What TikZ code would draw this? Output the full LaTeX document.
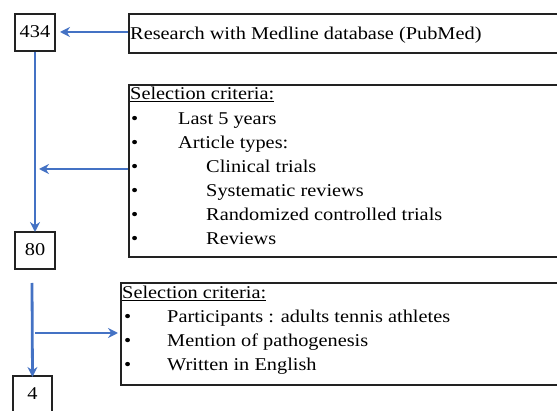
\documentclass[tikz,border=0pt]{standalone}
\usepackage{fontspec}
\setmainfont[FakeStretch=1.13]{Liberation Serif}
\usetikzlibrary{arrows.meta}
\definecolor{arrowblue}{HTML}{4472C4}
\definecolor{boxline}{HTML}{222222}
\begin{document}
\begin{tikzpicture}[x=1pt,y=-1pt,
  numbox/.style={draw=boxline,line width=2pt,minimum width=40pt,minimum height=37pt,inner sep=0pt},
  critbox/.style={draw=boxline,line width=2pt,anchor=north west,inner sep=0pt},
  txt/.style={anchor=base west,inner sep=0pt,font=\fontsize{18}{20}\selectfont},
  numtxt/.style={anchor=base,inner sep=0pt,font=\fontsize{18}{20}\selectfont},
  flow/.style={draw=arrowblue,line width=2.8pt,-{Stealth[length=10pt,width=10pt]}}]
\useasboundingbox (0,0) rectangle (557,411);
% boxes
\node[critbox,minimum width=460pt,minimum height=39pt] (b1) at (128,13) {};
\node[critbox,minimum width=460pt,minimum height=172pt] (b2) at (128,84) {};
\node[critbox,minimum width=470pt,minimum height=102pt] (b3) at (120,282) {};
\node[numbox] (n434) at (35,32.5) {};
\node[numbox] (n80) at (35,250.5) {};
\node[numbox,minimum width=39pt] (n4) at (32.5,394.5) {};
% numbers
\node[numtxt] (t434) at (35,37.5) {434};
\node[numtxt] (t80) at (35,255.5) {80};
\node[numtxt] (t4) at (32.5,399.5) {4};
% box 1 text
\node[txt] (r1) at (130,39.5) {Research with Medline database (PubMed)};
% box 2 text
\node[txt] (s2) at (130,100) {\underline{Selection criteria:}};
\node[txt] (d21) at (131,125) {•};
\node[txt] (d22) at (131,149) {•};
\node[txt] (d23) at (131,173) {•};
\node[txt] (d24) at (131,197) {•};
\node[txt] (d25) at (131,221) {•};
\node[txt] (d26) at (131,245) {•};
\node[txt] (l21) at (178,125) {Last 5 years};
\node[txt] (l22) at (178,149) {Article types:};
\node[txt] (l23) at (206,173) {Clinical trials};
\node[txt] (l24) at (206,197) {Systematic reviews};
\node[txt] (l25) at (206,221) {Randomized controlled trials};
\node[txt] (l26) at (206,245) {Reviews};
% box 3 text
\node[txt] (s3) at (122,299) {\underline{Selection criteria:}};
\node[txt] (d31) at (124,323) {•};
\node[txt] (d32) at (124,347) {•};
\node[txt] (d33) at (124,371) {•};
\node[txt] (l31) at (167,323) {Participants : adults tennis athletes};
\node[txt] (l32) at (167,347) {Mention of pathogenesis};
\node[txt] (l33) at (167,371) {Written in English};
% connectors
\coordinate (a1) at (60,32);
\coordinate (a2) at (39,169);
\coordinate (a2s) at (128,169);
\coordinate (v2) at (32,283);
\coordinate (a3) at (35,333);
\coordinate (a3e) at (118,333);
\draw[flow] (b1.west |- a1) -- (a1);
\draw[flow] (n434.south) -- ([yshift=-1pt]n80.north);
\draw[flow] (a2s) -- (a2);
\draw[flow] (v2) -- ([yshift=-2pt]n4.north);
\draw[flow] (a3) -- (a3e);
\end{tikzpicture}
\end{document}
